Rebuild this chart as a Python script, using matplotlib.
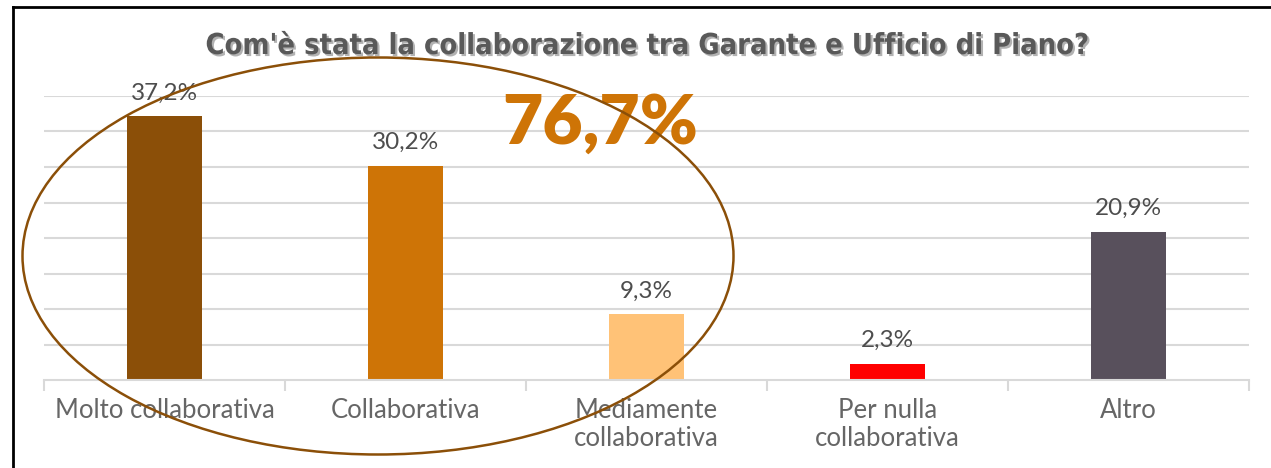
import matplotlib
matplotlib.use("Agg")
import matplotlib.pyplot as plt
from matplotlib.patches import Ellipse
from matplotlib.lines import Line2D
import matplotlib.patheffects as pe

categories = ["Molto collaborativa", "Collaborativa", "Mediamente\ncollaborativa",
              "Per nulla\ncollaborativa", "Altro"]
values = [37.2, 30.2, 9.3, 2.3, 20.9]
value_labels = ["37,2%", "30,2%", "9,3%", "2,3%", "20,9%"]
colors = ["#8B4F08", "#CE7406", "#FFC277", "#FF0000", "#58505C"]
title = "Com'è stata la collaborazione tra Garante e Ufficio di Piano?"
highlight = "76,7%"

W, H = 1271, 468
fig = plt.figure(figsize=(W / 100, H / 100), dpi=100)
ax = fig.add_axes([44 / W, 1 - 380 / H, (1249 - 44) / W, (380 - 96) / H])

x = list(range(len(categories)))
ax.bar(x, values, width=0.31, color=colors, zorder=2)
ax.set_xlim(-0.5, len(categories) - 0.5)
ax.set_ylim(0, 40)
ax.set_yticks([5 * i for i in range(1, 9)])
ax.yaxis.grid(True, color="#D9D9D9", linewidth=1.5, zorder=0)
ax.tick_params(axis="y", length=0, labelleft=False)
for s in ["top", "right", "left"]:
    ax.spines[s].set_visible(False)
ax.spines["bottom"].set_color("#D9D9D9")
ax.spines["bottom"].set_linewidth(1.5)
ax.set_xticks(x)
ax.set_xticklabels(categories, fontsize=18.5, color="#666666", family="Lato",
                   linespacing=1.15)
ax.tick_params(axis="x", length=0, pad=13)
# category separators
ax.set_xticks([i - 0.5 for i in range(len(categories) + 1)], minor=True)
ax.tick_params(axis="x", which="minor", length=8, width=1.5, color="#D9D9D9")

for xi, v, lab in zip(x, values, value_labels):
    ax.annotate(lab, (xi, v), xytext=(0, 9), textcoords="offset points",
                ha="center", va="bottom", fontsize=17.5, color="#4D4D4D",
                family="Lato")

fig.text(646 / W, 1 - 46 / H, title, ha="center", va="center", fontsize=20.8,
         fontweight="bold", color="#595959", family="DejaVu Sans",
         fontstretch="condensed",
         path_effects=[pe.withSimplePatchShadow(offset=(1.5, -1.5),
                                                shadow_rgbFace="#7F7F7F",
                                                alpha=0.6)])

fig.text(600 / W, 1 - 124 / H, highlight, ha="center", va="center",
         fontsize=50, fontweight="heavy", color="#CE7406", family="Lato")

fig.patches.append(Ellipse((378 / W, 1 - 256 / H), 711 / W, 397 / H,
                           transform=fig.transFigure, fill=False,
                           edgecolor="#8B4F08", linewidth=1.8, zorder=5))

# frame (left and top)
fig.add_artist(Line2D([13 / W, 13 / W], [0, 1 - 7 / H], transform=fig.transFigure,
                      color="black", linewidth=2))
fig.add_artist(Line2D([13 / W, 1], [1 - 7 / H, 1 - 7 / H], transform=fig.transFigure,
                      color="black", linewidth=2))

fig.savefig("out.png", dpi=100)
